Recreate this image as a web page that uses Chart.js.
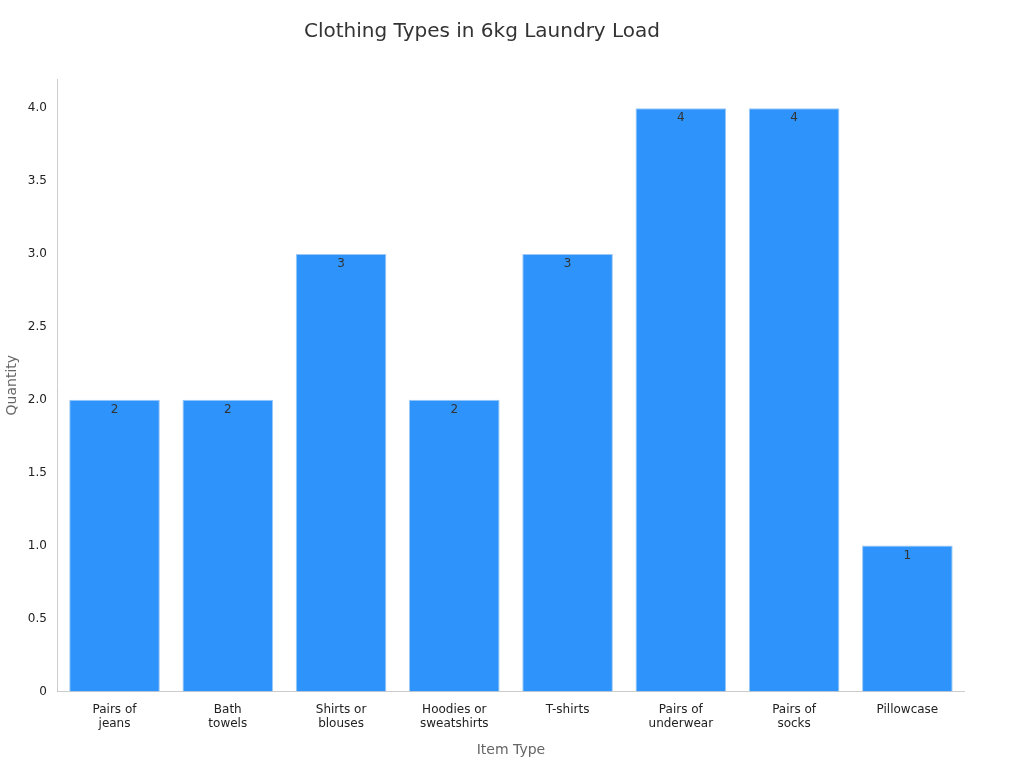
<!DOCTYPE html>
<html><head><meta charset="utf-8">
<script src="https://cdn.jsdelivr.net/npm/chart.js@4"></script>
<style>html,body{margin:0;background:#fff}#w{width:1024px;height:768px}</style>
</head><body><div id="w"><canvas id="c"></canvas></div>
<script>
const categories = [["Pairs of","jeans"],["Bath","towels"],["Shirts or","blouses"],["Hoodies or","sweatshirts"],["T-shirts"],["Pairs of","underwear"],["Pairs of","socks"],["Pillowcase"]];
const quantities = [2,2,3,2,3,4,4,1];
const yTicks = [0,0.5,1,1.5,2,2.5,3,3.5,4];

const labelPlugin = {
  id:'lbl',
  afterDatasetsDraw(chart){
    const ctx = chart.ctx, meta = chart.getDatasetMeta(0);
    ctx.save();
    ctx.font = '12px "DejaVu Sans"';
    ctx.fillStyle = '#333';
    ctx.textAlign = 'center'; ctx.textBaseline = 'top';
    meta.data.forEach((b,i)=>ctx.fillText(String(quantities[i]), b.x, b.y+4));
    ctx.restore();
  }
};
Chart.defaults.font.family = '"DejaVu Sans"';
new Chart(document.getElementById('c'), {
  type:'bar',
  data:{labels:categories, datasets:[{data:quantities, backgroundColor:'#2E93FA', borderColor:'#9CC8F5', borderWidth:1, categoryPercentage:0.8, barPercentage:1}]},
  options:{
    responsive:true, maintainAspectRatio:false, animation:false,
    layout:{padding:{left:0,right:60,top:10,bottom:5}},
    plugins:{legend:{display:false}, tooltip:{enabled:false},
      title:{display:true, text:'Clothing Types in 6kg Laundry Load', color:'#333', font:{size:20, weight:'normal'}, padding:{top:10,bottom:35}}},
    scales:{
      x:{grid:{display:false}, border:{color:'#ccc'}, ticks:{color:'#222', font:{size:12}, maxRotation:0},
         title:{display:true, text:'Item Type', color:'#666', font:{size:14}, padding:{top:8}}},
      y:{min:0, max:4.2, grid:{display:false}, border:{color:'#ccc'},
         afterBuildTicks(s){ s.ticks = yTicks.map(v=>({value:v})); },
         ticks:{color:'#222', font:{size:12}},
         title:{display:true, text:'Quantity', color:'#666', font:{size:14}}}
    }
  },
  plugins:[labelPlugin]
});
</script></body></html>
